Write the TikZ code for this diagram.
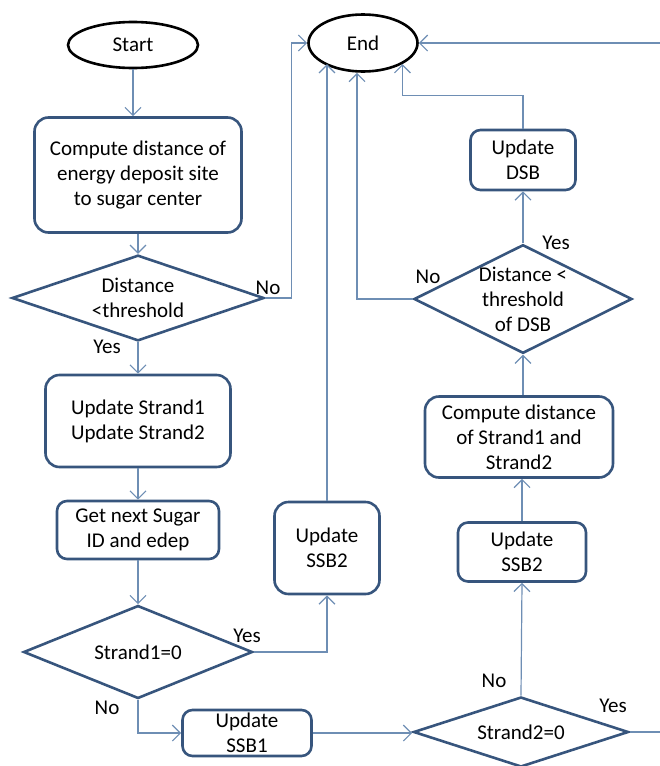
\documentclass[tikz,border=0pt]{standalone}
\usepackage{fontspec}
\setmainfont{Carlito}
\usetikzlibrary{shapes.geometric, arrows.meta}
\definecolor{boxline}{RGB}{55,85,125}
\definecolor{flowline}{RGB}{110,142,180}
\tikzstyle{proc} = [rectangle, rounded corners=14pt, draw=boxline, line width=2.6pt, align=center, inner sep=2pt]
\tikzstyle{term} = [ellipse, draw=black, line width=2.6pt, inner sep=0pt]
\tikzstyle{decision} = [diamond, draw=boxline, line width=2.6pt, align=center, inner sep=0pt, aspect=2]
\tikzstyle{flow} = [draw=flowline, line width=1.2pt, -{Straight Barb[length=8pt,width=16pt,line width=1.2pt]}]
\tikzstyle{lbl} = [inner sep=0pt]

\begin{document}
\begin{tikzpicture}[x=1pt, y=-1pt, font=\fontsize{21}{25}\selectfont]
\useasboundingbox (0,0) rectangle (659,766);
% left column
\node (start) [term, minimum width=130pt, minimum height=46pt] at (133,45) {Start};
\node (dist) [proc, minimum width=207pt, minimum height=115pt] at (138,175) {Compute distance of\\energy deposit site\\to sugar center};
\node (thr) [decision, minimum width=252pt, minimum height=80pt] at (138,298) {Distance\\<threshold};
\node (upd) [proc, minimum width=185pt, minimum height=92pt] at (138,421) {Update Strand1\\Update Strand2};
\node (next) [proc, rounded corners=10pt, minimum width=162pt, minimum height=58pt] at (138,530) {Get next Sugar\\ID and edep};
\node (s1) [decision, minimum width=229pt, minimum height=93pt] at (138,652) {Strand1=0};
% middle
\node (ssbA) [proc, minimum width=105pt, minimum height=92pt] at (327,548) {Update\\SSB2};
\node (ssbB) [proc, rounded corners=10pt, minimum width=129pt, minimum height=46pt] at (247,733) {Update\\SSB1};
\node (stop) [term, minimum width=109pt, minimum height=57pt] at (363,43) {End};
% right column
\node (s2) [decision, minimum width=215pt, minimum height=70pt] at (521,732) {Strand2=0};
\node (ssbC) [proc, rounded corners=10pt, minimum width=128pt, minimum height=59pt] at (522,552) {Update\\SSB2};
\node (cmp) [proc, minimum width=188pt, minimum height=81pt] at (519,437) {Compute distance\\of Strand1 and\\Strand2};
\node (dsbq) [decision, minimum width=218pt, minimum height=105pt] at (523,299) {Distance <\\threshold\\of DSB};
\node (dsb) [proc, rounded corners=10pt, minimum width=105pt, minimum height=60pt] at (523,160) {Update\\DSB};

% labels
\node (noThr) [lbl] at (268,288) {No};
\node (yesThr) [lbl] at (107,347) {Yes};
\node (yesS1) [lbl] at (247,636) {Yes};
\node (noS1) [lbl] at (107,708) {No};
\node (noS2) [lbl] at (494,681) {No};
\node (yesS2) [lbl] at (613,706) {Yes};
\node (yesDsb) [lbl] at (556,243) {Yes};
\node (noDsb) [lbl] at (428,277) {No};

% connectors
\draw[flow] (start.south) -- (start.south |- dist.north);
\draw[flow] (dist) -- (thr);
\draw[flow] (thr) -- (upd);
\draw[flow] (upd) -- (next);
\draw[flow] (next) -- (s1);
\draw[flow] (s1.east) -| (ssbA.south);
\draw[flow] (ssbA.north) -- (ssbA.north |- stop.south west);
\draw[flow] (s1.south) |- (ssbB.west);
\draw[flow] (ssbB.east) -- (ssbB.east -| s2.west);
\draw[flow] (s2.north) -- (ssbC.south);
\draw[flow] (ssbC.north) -- (ssbC.north |- cmp.south);
\draw[flow] (cmp.north -| dsbq.south) -- (dsbq.south);
\draw[flow] (dsbq) -- (dsb);
\draw[flow] (dsb.north) -- ++(0,-33) -| (stop.south east);
\draw[flow] (dsbq.west) -| ([xshift=-6pt]stop.south);
\draw[flow] (thr.east) -- ++(26,0) |- (stop.west);
\draw[flow] (s2.east) -- ++(45,0) |- (stop.east);
\end{tikzpicture}
\end{document}
